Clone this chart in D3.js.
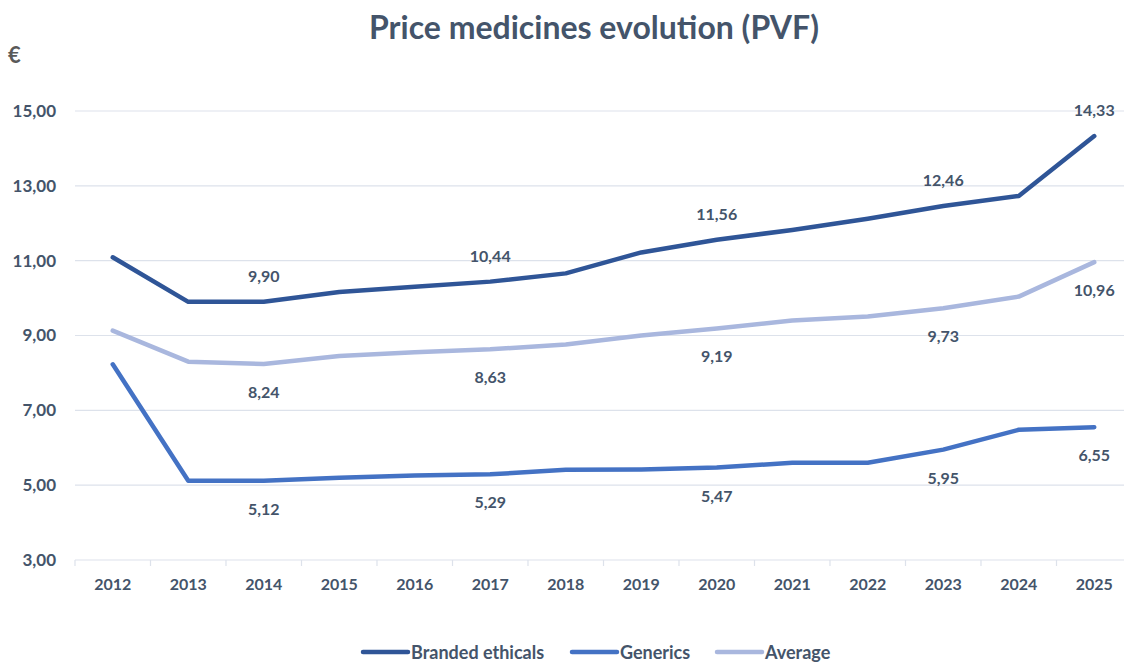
<!DOCTYPE html>
<html><head><meta charset="utf-8">
<script src="https://cdn.jsdelivr.net/npm/d3@7"></script>
<style>
html,body{margin:0;padding:0;background:#fff;}
svg text{font-family:Lato,"Open Sans",sans-serif;font-weight:700;}
</style></head>
<body><svg id="chart" width="1124" height="662"></svg>
<script>
const years = ["2012","2013","2014","2015","2016","2017","2018","2019","2020","2021","2022","2023","2024","2025"];
const branded = [11.09, 9.90, 9.90, 10.16, 10.30, 10.44, 10.66, 11.22, 11.56, 11.82, 12.12, 12.46, 12.73, 14.33];
const generics = [8.23, 5.12, 5.12, 5.20, 5.26, 5.29, 5.41, 5.42, 5.47, 5.60, 5.60, 5.95, 6.48, 6.55];
const average = [9.13, 8.30, 8.24, 8.45, 8.55, 8.63, 8.76, 9.00, 9.19, 9.40, 9.51, 9.73, 10.04, 10.96];
const yTicks = [3, 5, 7, 9, 11, 13, 15];
const labelYears = ["2014","2017","2020","2023","2025"];
const seriesNames = ["Branded ethicals","Generics","Average"];
const colors = ["#2F5597","#4472C4","#A9B7DE"];

const series = [
  {name: seriesNames[0], values: branded, color: colors[0], labelPos: "above"},
  {name: seriesNames[1], values: generics, color: colors[1], labelPos: "below"},
  {name: seriesNames[2], values: average, color: colors[2], labelPos: "below"}
];

const loc = d3.formatLocale({decimal: ",", thousands: ".", grouping: [3], currency: ["", " €"]});
const fmt = loc.format(".2f");

const svg = d3.select("#chart");
const textColor = "#44546A";
const ff = "Lato, 'Open Sans', sans-serif";

const x = d3.scaleBand().domain(years).range([75, 1132]).paddingInner(0).paddingOuter(0);
const y = d3.scaleLinear().domain([3, 15]).range([560, 111]);

// title
svg.append("text").attr("x", 594).attr("y", 39).attr("text-anchor", "middle")
  .attr("font-size", 32).attr("fill", textColor).text("Price medicines evolution (PVF)");

// euro
svg.append("text").attr("x", 8).attr("y", 63).attr("font-size", 22).attr("fill", "#595959").text("€");

// gridlines
svg.append("g").selectAll("line").data(yTicks).join("line")
  .attr("x1", 75).attr("x2", 1132)
  .attr("y1", d => y(d)).attr("y2", d => y(d))
  .attr("stroke", "#DDE2EB").attr("stroke-width", 1.2);

// y axis
const yAxis = d3.axisLeft(y).tickValues(yTicks).tickFormat(d => fmt(d)).tickSize(0).tickPadding(0);
const gy = svg.append("g").attr("transform", "translate(56,0)").call(yAxis);
gy.select(".domain").remove();
gy.selectAll("text").attr("font-size", 17).attr("fill", textColor)
  .style("font-family", ff).style("font-weight", 700);

// x axis
const xAxis = d3.axisBottom(x).tickSize(0).tickPadding(0);
const gx = svg.append("g").attr("transform", "translate(0,560)").call(xAxis);
gx.select(".domain").remove();
gx.selectAll("text").attr("y", 30).attr("dy", 0).attr("font-size", 16).attr("fill", textColor)
  .style("font-family", ff).style("font-weight", 700);
// band-boundary tick marks
const bounds = years.map(d => x(d)).concat([x(years[years.length-1]) + x.bandwidth()]);
gx.append("g").selectAll("line").data(bounds).join("line")
  .attr("x1", d => d).attr("x2", d => d).attr("y1", 0).attr("y2", 6)
  .attr("stroke", "#DDE2EB").attr("stroke-width", 1.2);

const cx = d => x(d) + x.bandwidth() / 2;
const line = d3.line().x((d, i) => cx(years[i])).y(d => y(d));

// lines
svg.append("g").selectAll("path").data(series).join("path")
  .attr("d", s => line(s.values))
  .attr("fill", "none").attr("stroke", s => s.color).attr("stroke-width", 4.5)
  .attr("stroke-linejoin", "round").attr("stroke-linecap", "round");

// data labels
series.forEach(s => {
  svg.append("g").selectAll("text").data(labelYears).join("text")
    .attr("x", d => cx(d))
    .attr("y", d => y(s.values[years.indexOf(d)]) + (s.labelPos === "above" ? -20 : 34))
    .attr("text-anchor", "middle").attr("font-size", 16).attr("fill", textColor)
    .text(d => fmt(s.values[years.indexOf(d)]));
});

// legend
const legendItems = [
  {name: seriesNames[0], color: colors[0], x: 363},
  {name: seriesNames[1], color: colors[1], x: 572},
  {name: seriesNames[2], color: colors[2], x: 717}
];
const lg = svg.append("g").selectAll("g").data(legendItems).join("g")
  .attr("transform", d => `translate(${d.x},652)`);
lg.append("line").attr("x1", 0).attr("x2", 45).attr("y1", 0).attr("y2", 0)
  .attr("stroke", d => d.color).attr("stroke-width", 4.5).attr("stroke-linecap", "round");
lg.append("text").attr("x", 48).attr("y", 6.5).attr("font-size", 18).attr("fill", textColor).text(d => d.name);
</script></body></html>
